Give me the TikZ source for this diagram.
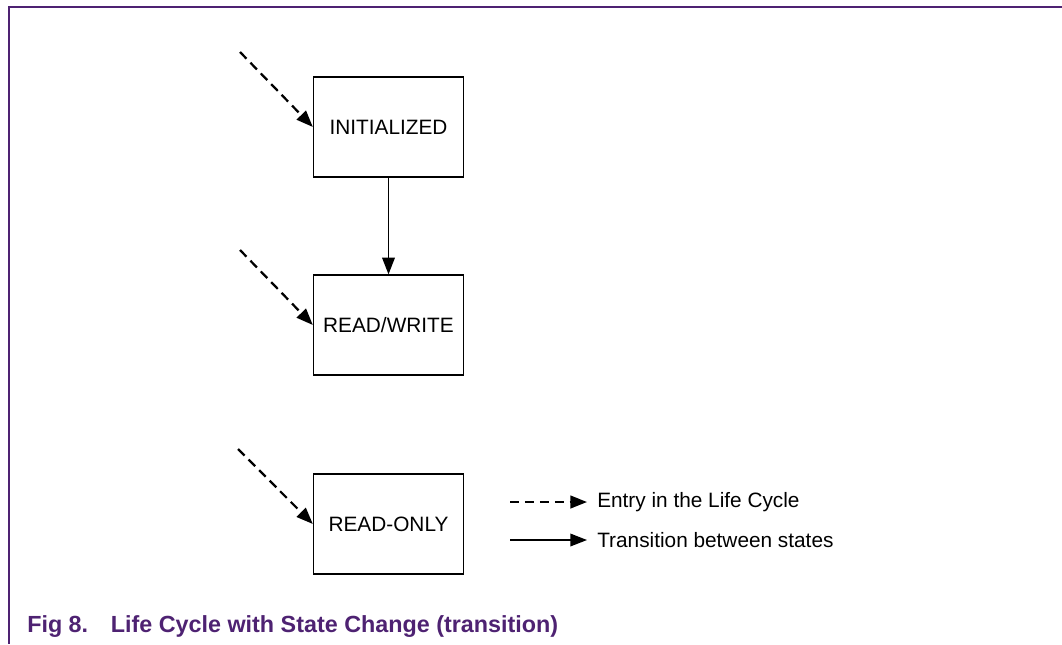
\documentclass[tikz,border=0pt]{standalone}
\usepackage{fontspec}
\setmainfont{Liberation Sans}
\usetikzlibrary{arrows.meta}
\definecolor{nxppurple}{RGB}{78,34,114}
\tikzset{
  statebox/.style={draw=black, line width=1pt, minimum width=112.5pt, minimum height=75pt,
    inner sep=0pt, font=\fontsize{15.6}{18}\selectfont},
  entry/.style={line width=1.7pt, dash pattern=on 7pt off 4.2pt,
    -{Triangle[length=12.5pt,width=9.5pt]}},
  trans/.style={line width=1pt, -{Triangle[length=12.5pt,width=9.5pt]}},
  legendtext/.style={anchor=base west, inner sep=0pt, font=\fontsize{15.6}{18}\selectfont},
  frame/.style={draw=nxppurple, line width=1.1pt},
}
\begin{document}
\begin{tikzpicture}[x=0.75pt, y=-0.75pt]
  \useasboundingbox (0,0) rectangle (1062,644);
  % figure frame (top and left rules)
  \draw[frame] (1062,7) -- (9,7) -- (9,644);

  % states
  \node[statebox] (init) at (388.5,127) {INITIALIZED};
  \node[statebox] (rw)   at (388.5,325) {READ/WRITE};
  \node[statebox] (ro)   at (388.5,524) {READ-ONLY};

  % entry points into the life cycle
  \coordinate (e1) at (240,52);
  \coordinate (e2) at (240,250);
  \coordinate (e3) at (238,449);
  \draw[entry] (e1) -- (init.west);
  \draw[entry] (e2) -- (rw.west);
  \draw[entry] (e3) -- (ro.west);

  % state transition
  \draw[trans] (init.south) -- (rw.north);

  % legend
  \coordinate (la) at (510,502);
  \coordinate (lb) at (587,502);
  \coordinate (lc) at (510,540);
  \coordinate (ld) at (587,540);
  \draw[entry] (la) -- (lb);
  \draw[trans] (lc) -- (ld);
  \node[legendtext] (lt1) at (597,507) {Entry in the Life Cycle};
  \node[legendtext] (lt2) at (597,547) {Transition between states};

  % caption
  \node[anchor=base west, inner sep=0pt, text=nxppurple,
        font=\fontsize{17.5}{20}\selectfont\bfseries] (cap) at (27,632)
    {Fig 8.\hspace{17pt}Life Cycle with State Change (transition)};
\end{tikzpicture}
\end{document}
